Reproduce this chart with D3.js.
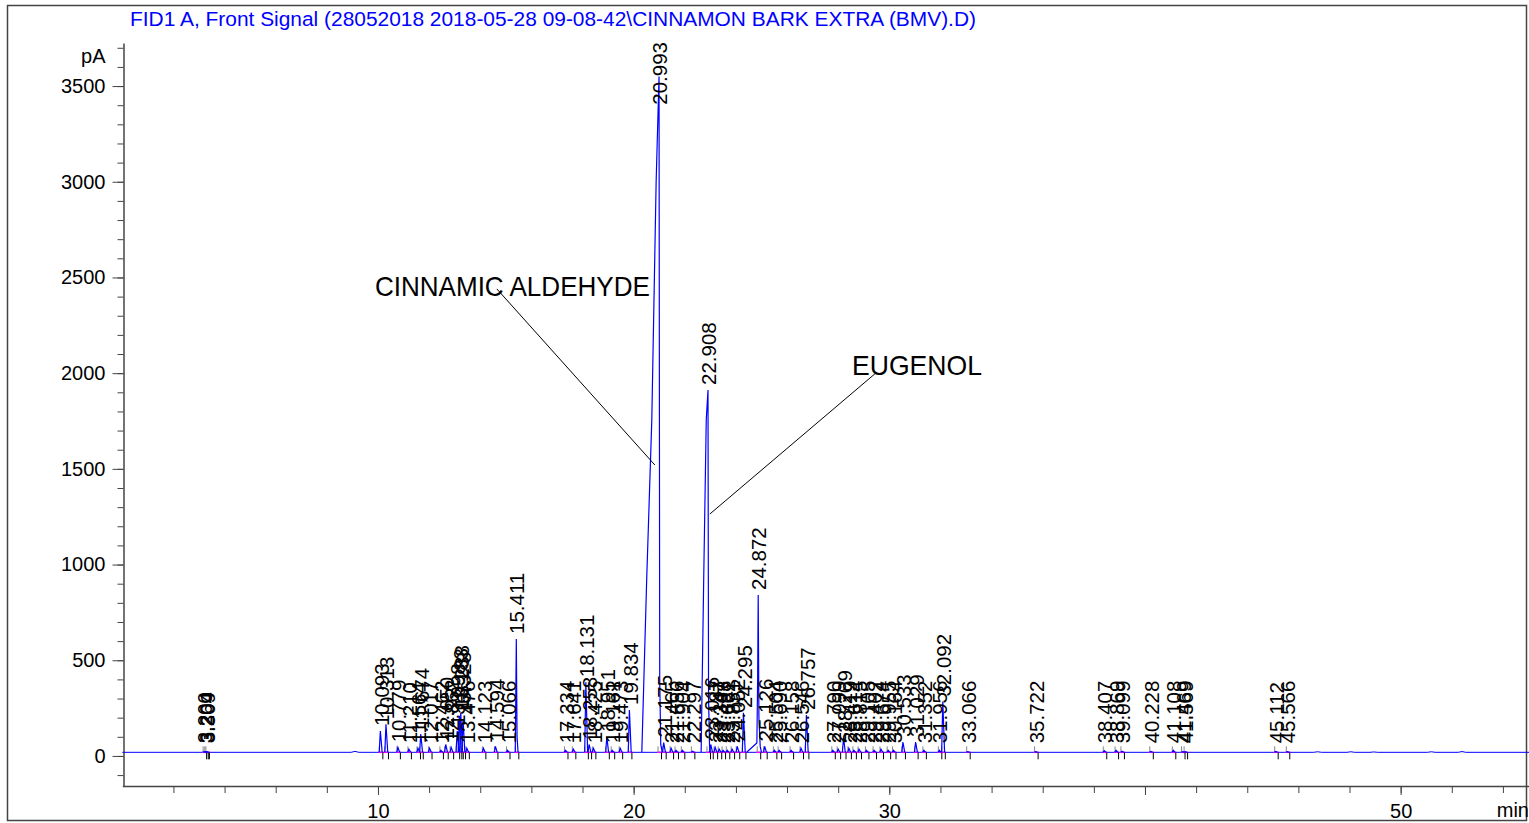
<!DOCTYPE html>
<html>
<head>
<meta charset="utf-8">
<script src="https://cdn.jsdelivr.net/npm/d3@7/dist/d3.min.js"></script>
<style>
  html, body { margin: 0; padding: 0; background: #fff; }
  svg text { font-family: "Liberation Sans", Arial, sans-serif; }
</style>
</head>
<body>
<div id="chart"></div>
<script>
const titleText = "FID1 A, Front Signal (28052018 2018-05-28 09-08-42\\CINNAMON BARK EXTRA (BMV).D)";

const yTickLabels = [0, 500, 1000, 1500, 2000, 2500, 3000, 3500];
const xTickLabels = [10, 20, 30, 50];

// baseline level of the FID signal (pA)
const baselinePA = 19;

// retention times (min) and apex heights (pA)
const peakTimes = [
  3.200, 3.264, 3.309,
  10.093, 10.313, 10.779, 11.210, 11.564, 11.674, 12.017, 12.462, 12.650, 12.862,
  13.098, 13.183, 13.238, 13.328, 13.476, 14.123, 14.594, 15.066, 15.411,
  17.334, 17.641, 18.131, 18.258, 18.425, 18.951, 19.161, 19.473, 19.834,
  20.993, 21.175, 21.465, 21.656, 21.904, 22.297,
  22.908, 23.016, 23.187, 23.347, 23.498, 23.662, 23.851, 24.052, 24.295,
  24.872, 25.126, 25.504, 25.690, 26.158, 26.546, 26.757,
  27.790, 27.999, 28.209, 28.419, 28.614, 28.815, 29.105, 29.402, 29.674, 29.955, 30.164,
  30.533, 31.029, 31.352, 31.956, 32.092, 33.066,
  35.722, 38.407, 38.869, 39.099, 40.228, 41.108, 41.469, 41.569, 45.112, 45.566
];
const peakHeights = [
  22, 22, 22,
  130, 165, 45, 35, 40, 115, 40, 30, 60, 45,
  130, 210, 225, 190, 40, 40, 50, 30, 611,
  30, 35, 385, 60, 40, 100, 30, 40, 240,
  3550, 70, 40, 30, 30, 25,
  1912, 60, 45, 35, 30, 30, 35, 50, 225,
  841, 50, 30, 30, 30, 40, 214,
  30, 35, 95, 40, 30, 35, 30, 30, 35, 30, 30,
  73, 73, 30, 30, 284, 22,
  22, 28, 30, 25, 24, 30, 22, 22, 24, 22
];

// overloaded peaks: leading and trailing edge points [min, pA]
const peakEdges = [
  { rt: 20.993, lead: [[20.32, 19], [20.51, 920], [20.71, 1755], [20.88, 3000]], tail: [[21.02, 400], [21.06, 60], [21.12, 19]] },
  { rt: 22.908, lead: [[22.64, 19], [22.74, 920], [22.84, 1755]], tail: [[22.93, 300], [22.97, 50], [23.0, 19]] },
  { rt: 24.872, lead: [[24.43, 21], [24.82, 68], [24.85, 400]], tail: [[24.9, 200], [24.95, 50], [25.0, 19]] },
  { rt: 15.411, lead: [[15.37, 19]], tail: [[15.44, 100], [15.48, 19]] }
];

// small unlabelled bumps on the baseline [min, pA]
const baselineBumps = [[9.1, 24], [46.75, 22], [48.05, 22], [48.95, 21], [51.2, 22], [52.4, 23]];

const annotations = [
  { text: "CINNAMIC ALDEHYDE", at: [9.88, 2403], from: [14.65, 2440], to: [20.83, 1520] },
  { text: "EUGENOL", at: [28.54, 1990], from: [29.52, 2006], to: [22.98, 1264] }
];
const annotationWidths = { "CINNAMIC ALDEHYDE": 275, "EUGENOL": 130 };

const width = 1529, height = 823;

const svg = d3.select("#chart").append("svg")
  .attr("width", width)
  .attr("height", height);

// outer frame
svg.append("rect")
  .attr("x", 7.5).attr("y", 5.5)
  .attr("width", 1519).attr("height", 815)
  .attr("fill", "none")
  .attr("stroke", "#444")
  .attr("stroke-width", 1.5);

svg.append("text")
  .attr("x", 130).attr("y", 26)
  .attr("font-size", 20.5)
  .attr("fill", "#0000ff")
  .attr("textLength", 846)
  .attr("lengthAdjust", "spacingAndGlyphs")
  .text(titleText);

const x = d3.scaleLinear().domain([0, 55.02]).range([122.3, 1529]);
const y = d3.scaleLinear().domain([-157, 3725]).range([786, 43]);

// y axis: minor ticks every 100 pA, labelled major ticks
const yAxisG = svg.append("g").attr("transform", "translate(123.5,0)");
yAxisG.call(d3.axisLeft(y).tickValues(d3.range(-100, 3701, 100)).tickSize(6).tickSizeOuter(0).tickFormat(""));
yAxisG.append("g")
  .call(d3.axisLeft(y).tickValues(yTickLabels).tickSize(11).tickPadding(7).tickFormat(d3.format("d")))
  .call(g => g.select("path.domain").remove());
yAxisG.selectAll("text").attr("font-size", 20).attr("fill", "#000").attr("font-family", "Liberation Sans, Arial, sans-serif");
yAxisG.selectAll("path.domain").attr("stroke", "#444").attr("stroke-width", 1.5);
yAxisG.selectAll("line").attr("stroke", "#444");
yAxisG.append("text")
  .attr("x", -18).attr("y", 63)
  .attr("text-anchor", "end")
  .attr("font-size", 20)
  .attr("fill", "#000")
  .text("pA");

// x axis
const xAxisG = svg.append("g").attr("transform", "translate(0,786)");
xAxisG.call(d3.axisBottom(x).tickValues(d3.range(2, 55, 2)).tickSize(7).tickSizeOuter(0).tickFormat(""));
xAxisG.append("g")
  .call(d3.axisBottom(x).tickValues([10, 20, 30, 40, 50]).tickSize(9).tickFormat(""))
  .call(g => g.select("path.domain").remove());
xAxisG.append("g")
  .call(d3.axisBottom(x).tickValues(xTickLabels).tickSize(0).tickPadding(18))
  .call(g => g.select("path.domain").remove());
xAxisG.selectAll("text").attr("font-size", 20).attr("fill", "#000").attr("font-family", "Liberation Sans, Arial, sans-serif");
xAxisG.selectAll("path.domain").attr("stroke", "#444").attr("stroke-width", 1.5);
xAxisG.selectAll("line").attr("stroke", "#444");
xAxisG.append("text")
  .attr("x", 1529).attr("y", 31)
  .attr("text-anchor", "end")
  .attr("font-size", 20)
  .attr("fill", "#000")
  .text("min");

const line = d3.line().x(d => x(d[0])).y(d => y(d[1]));

// baseline with small bumps
const basePoints = [[0, baselinePA]];
baselineBumps.forEach(b => {
  basePoints.push([b[0] - 0.15, baselinePA], b, [b[0] + 0.15, baselinePA]);
});
basePoints.push([55.02, baselinePA]);

svg.append("path")
  .attr("d", line(basePoints))
  .attr("fill", "none")
  .attr("stroke", "#0000ff")
  .attr("stroke-width", 1);

const peaks = peakTimes.map((t, i) => ({ rt: t, apex: peakHeights[i] }));

// integration baselines (magenta)
svg.append("g").selectAll("line")
  .data(peaks)
  .enter()
  .append("line")
  .attr("x1", d => x(d.rt) - 2)
  .attr("x2", d => x(d.rt) + 3)
  .attr("y1", y(baselinePA))
  .attr("y2", y(baselinePA))
  .attr("stroke", "#ff00ff")
  .attr("stroke-width", 1.5);

// peak start/end markers
const markers = svg.append("g");
markers.selectAll("line.start")
  .data(peaks)
  .enter()
  .append("line")
  .attr("class", "start")
  .attr("x1", d => x(d.rt) - 1).attr("x2", d => x(d.rt) - 1)
  .attr("y1", y(baselinePA) - 6).attr("y2", y(baselinePA))
  .attr("stroke", "#888")
  .attr("stroke-width", 1);
markers.selectAll("line.end")
  .data(peaks)
  .enter()
  .append("line")
  .attr("class", "end")
  .attr("x1", d => x(d.rt) + 2.5).attr("x2", d => x(d.rt) + 2.5)
  .attr("y1", y(baselinePA)).attr("y2", y(baselinePA) + 7)
  .attr("stroke", "#000")
  .attr("stroke-width", 1);

// peaks
svg.append("g").selectAll("path")
  .data(peaks)
  .enter()
  .append("path")
  .attr("d", d => {
    const e = peakEdges.find(p => p.rt === d.rt);
    const lead = e ? e.lead : [[d.rt - 0.045, baselinePA]];
    const tail = e ? e.tail : [[d.rt + 0.07, baselinePA]];
    return line([...lead, [d.rt, d.apex], ...tail]);
  })
  .attr("fill", "none")
  .attr("stroke", "#0000ff")
  .attr("stroke-width", 1.2);

// retention time labels
const fmt = d3.format(".3f");
svg.append("g").selectAll("text")
  .data(peaks)
  .enter()
  .append("text")
  .attr("font-size", 20.5)
  .attr("fill", "#000")
  .attr("dy", "0.35em")
  .text(d => fmt(d.rt))
  .each(function(d) {
    const len = this.getComputedTextLength();
    let start = Math.min(y(d.apex) - 5, y(baselinePA) - 9);
    if (start - len < 42) start = 42 + len;
    const px = x(d.rt) + 1;
    d3.select(this)
      .attr("x", px).attr("y", start)
      .attr("transform", `rotate(-90,${px},${start})`);
  });

// compound annotations
annotations.forEach(a => {
  svg.append("line")
    .attr("x1", x(a.from[0])).attr("y1", y(a.from[1]))
    .attr("x2", x(a.to[0])).attr("y2", y(a.to[1]))
    .attr("stroke", "#000")
    .attr("stroke-width", 1);
  svg.append("text")
    .attr("x", x(a.at[0])).attr("y", y(a.at[1]))
    .attr("font-size", 28)
    .attr("fill", "#000")
    .attr("textLength", annotationWidths[a.text])
    .attr("lengthAdjust", "spacingAndGlyphs")
    .text(a.text);
});
</script>
</body>
</html>
